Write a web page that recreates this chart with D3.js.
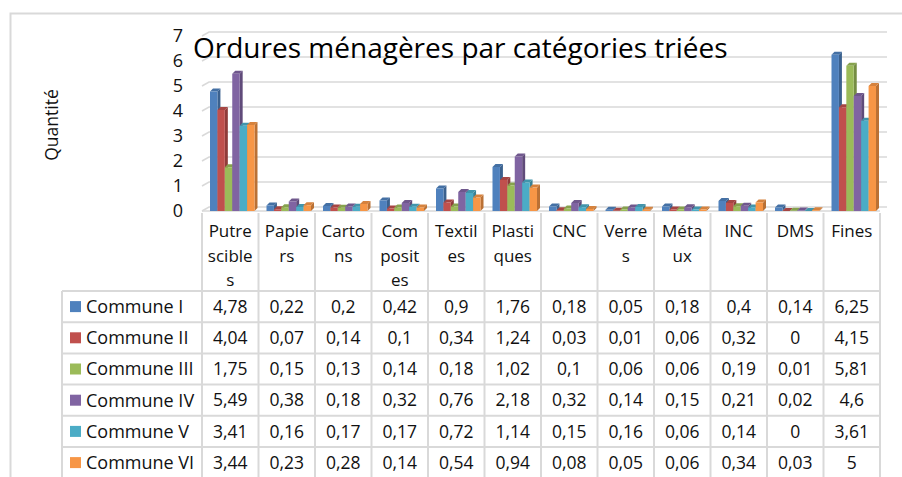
<!DOCTYPE html>
<html>
<head>
<meta charset="utf-8">
<script src="https://cdn.jsdelivr.net/npm/d3@7"></script>
<style>
  body { margin: 0; background: #fff; }
  text { font-family: "Open Sans", sans-serif; fill: #000; }
</style>
</head>
<body>
<svg id="chart" width="902" height="477"></svg>
<script>
// data {{{ //
const categories = ["Putrescibles", "Papiers", "Cartons", "Composites", "Textiles", "Plastiques",
  "CNC", "Verres", "Métaux", "INC", "DMS", "Fines"];
// how the category labels wrap in the table header
const categoryLines = [["Putre", "scible", "s"], ["Papie", "rs"], ["Carto", "ns"], ["Com", "posit", "es"],
  ["Textil", "es"], ["Plasti", "ques"], ["CNC"], ["Verre", "s"], ["Méta", "ux"], ["INC"], ["DMS"], ["Fines"]];
const series = ["Commune I", "Commune II", "Commune III", "Commune IV", "Commune V", "Commune VI"];
const communeI   = [4.78, 0.22, 0.2, 0.42, 0.9, 1.76, 0.18, 0.05, 0.18, 0.4, 0.14, 6.25];
const communeII  = [4.04, 0.07, 0.14, 0.1, 0.34, 1.24, 0.03, 0.01, 0.06, 0.32, 0, 4.15];
const communeIII = [1.75, 0.15, 0.13, 0.14, 0.18, 1.02, 0.1, 0.06, 0.06, 0.19, 0.01, 5.81];
const communeIV  = [5.49, 0.38, 0.18, 0.32, 0.76, 2.18, 0.32, 0.14, 0.15, 0.21, 0.02, 4.6];
const communeV   = [3.41, 0.16, 0.17, 0.17, 0.72, 1.14, 0.15, 0.16, 0.06, 0.14, 0, 3.61];
const communeVI  = [3.44, 0.23, 0.28, 0.14, 0.54, 0.94, 0.08, 0.05, 0.06, 0.34, 0.03, 5];
const yTicks = [0, 1, 2, 3, 4, 5, 6, 7];
const colors = ["#4F81BD", "#C0504D", "#9BBB59", "#8064A2", "#4BACC6", "#F79646"];
// }}} data //

const values = [communeI, communeII, communeIII, communeIV, communeV, communeVI];
const svg = d3.select("#chart");
const gridColor = "#d9d9d9";
const depth = { dx: 7, dy: 4 };   // back wall offset
const bar3d = { dx: 3, dy: 3 };   // bar thickness

// scales {{{ //
const x0 = d3.scaleBand().domain(categories).range([202, 880]);
const x1 = d3.scaleBand().domain(series).range([8, 52.5]);
const y = d3.scaleLinear().domain([0, 7]).range([211, 36]);
const rowY = d3.scaleBand().domain(series).range([291, 291 + 6 * 31.2]);
const fmt = v => String(v).replace(".", ",");
// }}} scales //

// frame
svg.append("rect").attr("x", 10.5).attr("y", 13.5).attr("width", 920).attr("height", 500)
  .attr("fill", "none").attr("stroke", gridColor).attr("stroke-width", 2);

// gridlines on back wall {{{ //
const grid = svg.append("g").attr("stroke", gridColor).attr("stroke-width", 1.5).attr("fill", "none");
yTicks.forEach(t => {
  grid.append("path").attr("d", `M${x0.range()[0]},${y(t)}L${x0.range()[0] + depth.dx},${y(t) - depth.dy}H${x0.range()[1] + depth.dx}`);
});
grid.append("line").attr("x1", x0.range()[0]).attr("x2", x0.range()[1]).attr("y1", y(0)).attr("y2", y(0));
// }}} gridlines //

// y axis labels
svg.append("g").selectAll("text").data(yTicks).join("text")
  .attr("x", 183).attr("y", d => y(d)).attr("dy", "0.35em")
  .attr("text-anchor", "end").style("font-size", "18px").style("fill", "#111")
  .text(d => d);

svg.append("text")
  .attr("transform", "translate(58,125) rotate(-90)")
  .attr("text-anchor", "middle").style("font-size", "17.5px").style("fill", "#111")
  .text("Quantité");

// bars {{{ //
values.forEach((vals, si) => {
  const c = d3.color(colors[si]);
  const g = svg.append("g");
  vals.forEach((v, ci) => {
    const bx = x0(categories[ci]) + x1(series[si]);
    const w = x1.bandwidth();
    const top = y(v), base = y(0);
    // side face
    g.append("path")
      .attr("d", `M${bx + w},${top}L${bx + w + bar3d.dx},${top - bar3d.dy}V${base - bar3d.dy}L${bx + w},${base}Z`)
      .attr("fill", c.darker(0.8));
    // top face
    g.append("path")
      .attr("d", `M${bx},${top}L${bx + bar3d.dx},${top - bar3d.dy}H${bx + w + bar3d.dx}L${bx + w},${top}Z`)
      .attr("fill", c.darker(0.4));
    // front face
    g.append("rect").attr("x", bx).attr("y", top).attr("width", w).attr("height", base - top)
      .attr("fill", c);
  });
});
// }}} bars //

// title
svg.append("text")
  .attr("x", 193).attr("y", 58)
  .style("font-size", "28px")
  .text("Ordures ménagères par catégories triées");

// data table {{{ //
const table = svg.append("g");
const tableTop = rowY.range()[0], tableBottom = rowY.range()[1];
const lines = table.append("g").attr("stroke", gridColor).attr("stroke-width", 2);
// vertical lines
categories.concat([null]).forEach((c, i) => {
  const xx = c ? x0(c) : x0.range()[1];
  lines.append("line").attr("x1", xx).attr("x2", xx).attr("y1", 213).attr("y2", tableBottom);
});
lines.append("line").attr("x1", 62).attr("x2", 62).attr("y1", tableTop).attr("y2", tableBottom);
// horizontal lines
series.forEach(s => {
  lines.append("line").attr("x1", 62).attr("x2", x0.range()[1]).attr("y1", rowY(s)).attr("y2", rowY(s));
});
lines.append("line").attr("x1", 62).attr("x2", x0.range()[1]).attr("y1", tableBottom).attr("y2", tableBottom);

// category header
categoryLines.forEach((ls, ci) => {
  const t = table.append("text")
    .attr("x", x0(categories[ci]) + x0.bandwidth() / 2)
    .attr("y", 237)
    .attr("text-anchor", "middle").style("font-size", "17px").style("fill", "#111");
  ls.forEach((l, li) => {
    t.append("tspan").attr("x", x0(categories[ci]) + x0.bandwidth() / 2)
      .attr("y", 237 + li * 24.5).text(l);
  });
});

// legend column + values
series.forEach((s, si) => {
  const cy = rowY(s) + rowY.bandwidth() / 2;
  table.append("rect").attr("x", 70).attr("y", cy - 5.5).attr("width", 11).attr("height", 11)
    .attr("fill", colors[si]);
  table.append("text").attr("x", 86).attr("y", cy).attr("dy", "0.35em")
    .style("font-size", "18px").style("fill", "#111").text(s);
  values[si].forEach((v, ci) => {
    table.append("text")
      .attr("x", x0(categories[ci]) + x0.bandwidth() / 2).attr("y", cy).attr("dy", "0.35em")
      .attr("text-anchor", "middle").style("font-size", "17.5px").style("fill", "#111")
      .text(fmt(v));
  });
});
// }}} data table //
</script>
</body>
</html>
